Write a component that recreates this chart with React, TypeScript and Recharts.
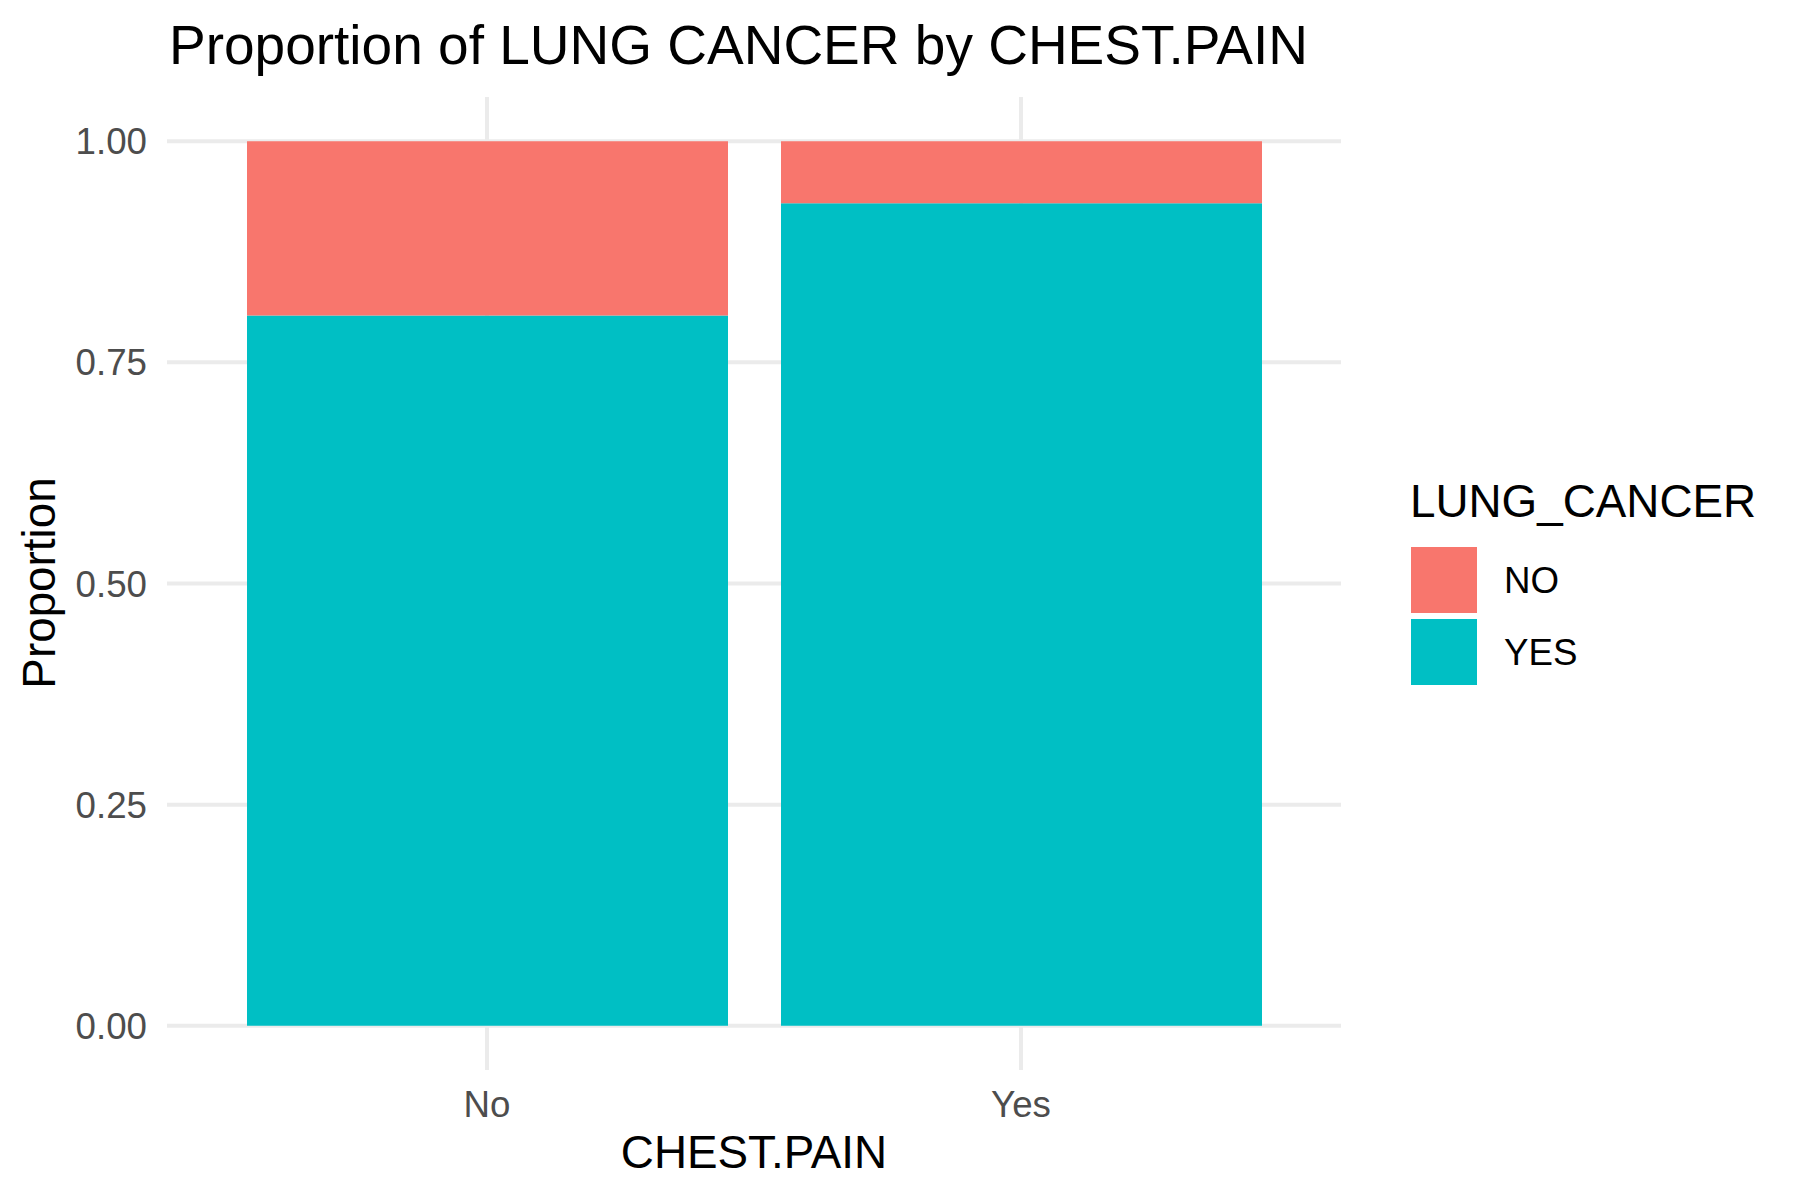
import { Bar, BarChart, CartesianGrid, XAxis, YAxis } from 'recharts'

const CHEST_PAIN = ['No', 'Yes']
const YES_SHARE = [0.803, 0.930]
const NO_SHARE = [0.197, 0.070]
const Y_TICKS = [0, 0.25, 0.5, 0.75, 1]
const Y_MINOR = [0.125, 0.375, 0.625, 0.875]
const LEGEND = [
  { name: 'NO', color: '#F8766D' },
  { name: 'YES', color: '#00BFC4' },
]

const data = CHEST_PAIN.map((c, i) => ({ cat: c, YES: YES_SHARE[i], NO: NO_SHARE[i] }))

const FONT = '"Liberation Sans", Arial, Helvetica, sans-serif'
const GRID = '#EBEBEB'

export default function App() {
  return (
    <div style={{ position: 'relative', width: 1800, height: 1200, background: '#fff', fontFamily: FONT }}>
      <style>{'body{margin:0}'}</style>
      <BarChart
        width={1800}
        height={1200}
        data={data}
        margin={{ top: 97, right: 459, left: 107, bottom: 70 }}
      >
        <CartesianGrid yAxisId="minor" stroke={GRID} strokeWidth={2} vertical={false} syncWithTicks />
        <CartesianGrid stroke={GRID} strokeWidth={4} syncWithTicks />
        <XAxis
          dataKey="cat"
          height={60}
          padding={{ left: 53, right: 53 }}
          axisLine={false}
          tickLine={false}
          tickSize={0}
          tickMargin={21}
          tick={{ fill: '#4D4D4D', fontSize: 36.7, fontFamily: FONT }}
        />
        <YAxis
          type="number"
          width={60}
          domain={[-0.05, 1.05]}
          ticks={Y_TICKS}
          tickFormatter={(v) => Number(v).toFixed(2)}
          axisLine={false}
          tickLine={false}
          tickSize={0}
          tickMargin={20}
          tick={{ fill: '#4D4D4D', fontSize: 36.7, fontFamily: FONT }}
        />
        <YAxis yAxisId="minor" type="number" hide domain={[-0.05, 1.05]} ticks={Y_MINOR} />
        <Bar dataKey="YES" stackId="a" fill="#00BFC4" barSize={481} isAnimationActive={false} />
        <Bar dataKey="NO" stackId="a" fill="#F8766D" barSize={481} isAnimationActive={false} />
      </BarChart>
      <svg
        width={1800}
        height={1200}
        style={{ position: 'absolute', left: 0, top: 0, pointerEvents: 'none' }}
        fontFamily={FONT}
      >
        <text x={169} y={64} fontSize={55} fill="#000">
          Proportion of LUNG CANCER by CHEST.PAIN
        </text>
        <text x={754} y={1168} fontSize={45.8} fill="#000" textAnchor="middle">
          CHEST.PAIN
        </text>
        <text
          x={55}
          y={583}
          fontSize={45.8}
          fill="#000"
          textAnchor="middle"
          transform="rotate(-90, 55, 583)"
        >
          Proportion
        </text>
        <text x={1410} y={517} fontSize={45.8} fill="#000">
          LUNG_CANCER
        </text>
        {LEGEND.map((l, i) => (
          <g key={l.name}>
            <rect x={1411} y={547 + i * 72} width={66} height={66} fill={l.color} />
            <text x={1504} y={593 + i * 72} fontSize={36.7} fill="#000">
              {l.name}
            </text>
          </g>
        ))}
      </svg>
    </div>
  )
}
